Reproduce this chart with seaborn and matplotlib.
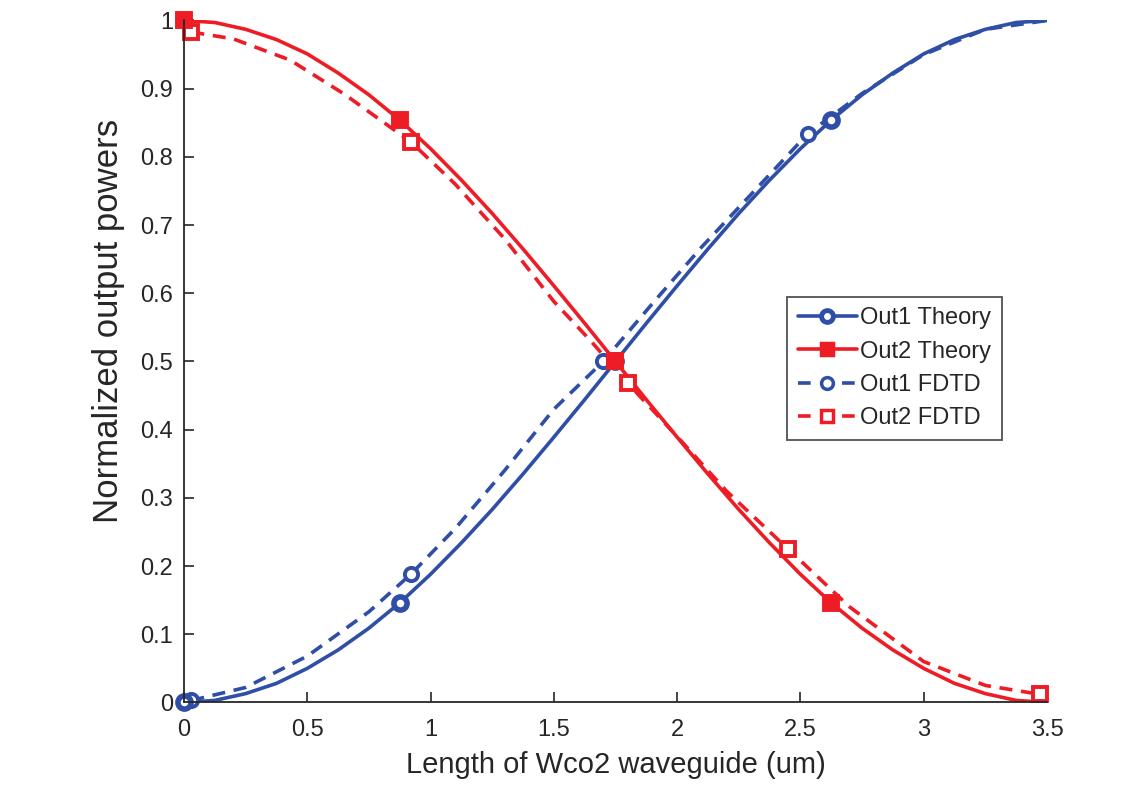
import matplotlib
matplotlib.use("Agg")
import matplotlib.pyplot as plt
import seaborn as sns
import numpy as np
import pandas as pd
from matplotlib.lines import Line2D

# ---- data ----
x_theory = [0, 0.125, 0.25, 0.375, 0.5, 0.625, 0.75, 0.875, 1.0, 1.125, 1.25, 1.375, 1.5, 1.625,
            1.75, 1.875, 2.0, 2.125, 2.25, 2.375, 2.5, 2.625, 2.75, 2.875, 3.0, 3.125, 3.25, 3.375, 3.5]
out1_theory = [0, 0.003, 0.013, 0.028, 0.050, 0.077, 0.109, 0.146, 0.188, 0.234, 0.283, 0.335, 0.389, 0.444,
               0.500, 0.556, 0.611, 0.665, 0.717, 0.766, 0.812, 0.854, 0.891, 0.923, 0.951, 0.972, 0.987, 0.997, 1.0]
out2_theory = [1.0, 0.997, 0.987, 0.972, 0.951, 0.923, 0.891, 0.854, 0.812, 0.766, 0.717, 0.665, 0.611, 0.556,
               0.500, 0.444, 0.389, 0.335, 0.283, 0.234, 0.188, 0.146, 0.109, 0.077, 0.050, 0.028, 0.013, 0.003, 0.0]
theory_mark_x = [0, 0.875, 1.75, 2.625]
out1_theory_mark = [0, 0.146, 0.500, 0.854]
out2_theory_mark = [1.0, 0.854, 0.500, 0.146]

x_fdtd1 = [0.03, 0.25, 0.5, 0.75, 0.92, 1.1, 1.3, 1.5, 1.70, 1.9, 2.1, 2.3, 2.53, 2.75, 3.0, 3.25, 3.5]
out1_fdtd = [0.003, 0.022, 0.068, 0.133, 0.188, 0.255, 0.34, 0.43, 0.50, 0.585, 0.668, 0.745, 0.834,
             0.893, 0.950, 0.987, 1.0]
fdtd1_mark_x = [0.03, 0.92, 1.70, 2.53]
out1_fdtd_mark = [0.003, 0.188, 0.50, 0.834]

x_fdtd2 = [0.03, 0.2, 0.43, 0.65, 0.92, 1.1, 1.3, 1.5, 1.65, 1.80, 2.0, 2.2, 2.45, 2.7, 3.0, 3.25, 3.47]
out2_fdtd = [0.983, 0.973, 0.942, 0.892, 0.822, 0.76, 0.68, 0.588, 0.53, 0.468, 0.39, 0.31, 0.225,
             0.14, 0.06, 0.025, 0.012]
fdtd2_mark_x = [0.03, 0.92, 1.80, 2.45, 3.47]
out2_fdtd_mark = [0.983, 0.822, 0.468, 0.225, 0.012]

labels = ["Out1 Theory", "Out2 Theory", "Out1 FDTD", "Out2 FDTD"]
x_ticks = [0, 0.5, 1, 1.5, 2, 2.5, 3, 3.5]
x_tick_labels = ["0", "0.5", "1", "1.5", "2", "2.5", "3", "3.5"]
y_ticks = [0, 0.1, 0.2, 0.3, 0.4, 0.5, 0.6, 0.7, 0.8, 0.9, 1]
y_tick_labels = ["0", "0.1", "0.2", "0.3", "0.4", "0.5", "0.6", "0.7", "0.8", "0.9", "1"]

BLUE = "#2f4ea6"
RED = "#ee1c25"
TXT = "#262626"

sns.set_style("ticks")
plt.rcParams['font.family'] = ['Liberation Sans', 'DejaVu Sans']

fig = plt.figure(figsize=(11.45, 7.87), dpi=100)
ax = fig.add_axes([0.1607, 0.1074, 0.7537, 0.8666])

lw = 2.6
dash = (0, (3.6, 2.4))
sns.lineplot(x=x_fdtd1, y=out1_fdtd, ax=ax, color=BLUE, lw=lw, linestyle=dash, sort=False, estimator=None)
sns.lineplot(x=x_fdtd2, y=out2_fdtd, ax=ax, color=RED, lw=lw, linestyle=dash, sort=False, estimator=None)
sns.lineplot(x=x_theory, y=out1_theory, ax=ax, color=BLUE, lw=lw, sort=False, estimator=None)
sns.lineplot(x=x_theory, y=out2_theory, ax=ax, color=RED, lw=lw, sort=False, estimator=None)

ms = 9.5
ax.plot(fdtd1_mark_x, out1_fdtd_mark, ls='none', marker='o', ms=ms, mfc='white', mec=BLUE, mew=2.8, clip_on=False)
ax.plot(fdtd2_mark_x, out2_fdtd_mark, ls='none', marker='s', ms=ms, mfc='white', mec=RED, mew=2.8, clip_on=False)
ax.plot(theory_mark_x, out1_theory_mark, ls='none', marker='o', ms=ms, mfc='white', mec=BLUE, mew=4.0, clip_on=False)
ax.plot(theory_mark_x, out2_theory_mark, ls='none', marker='s', ms=ms, mfc=RED, mec=RED, mew=2.8, clip_on=False)

ax.set_xlim(0, 3.5)
ax.set_ylim(0, 1)
ax.set_xticks(x_ticks)
ax.set_xticklabels(x_tick_labels)
ax.set_yticks(y_ticks)
ax.set_yticklabels(y_tick_labels)
ax.tick_params(direction='in', length=7, width=1.2, labelsize=17, colors=TXT)
ax.tick_params(axis='x', pad=12)
ax.tick_params(axis='y', pad=8)
for s in ['top', 'right']:
    ax.spines[s].set_visible(False)
for s in ['left', 'bottom']:
    ax.spines[s].set_color(TXT)
    ax.spines[s].set_linewidth(1.3)

ax.set_xlabel("Length of Wco2 waveguide (um)", fontsize=21, color=TXT, labelpad=7)
ax.set_ylabel("Normalized output powers", fontsize=25, color=TXT)
ax.yaxis.set_label_coords(-0.068, 0.56)

handles = [
    Line2D([], [], color=BLUE, lw=lw, marker='o', ms=8.5, mfc='white', mec=BLUE, mew=3.5),
    Line2D([], [], color=RED, lw=lw, marker='s', ms=8.5, mfc=RED, mec=RED, mew=2.5),
    Line2D([], [], color=BLUE, lw=lw, ls=(0, (3.5, 2.6)), marker='o', ms=8.5, mfc='white', mec=BLUE, mew=2.5),
    Line2D([], [], color=RED, lw=lw, ls=(0, (3.5, 2.6)), marker='s', ms=8.5, mfc='white', mec=RED, mew=2.5),
]
leg = ax.legend(handles, labels, loc='upper left', bbox_to_anchor=(0.699, 0.595), fontsize=17,
                frameon=True, fancybox=False, edgecolor=TXT, handlelength=2.5, handletextpad=0.15,
                borderpad=0.45, labelspacing=0.48, borderaxespad=0)
leg.get_frame().set_linewidth(1.3)
for t in leg.get_texts():
    t.set_color(TXT)

fig.savefig("out.png", dpi=100)
